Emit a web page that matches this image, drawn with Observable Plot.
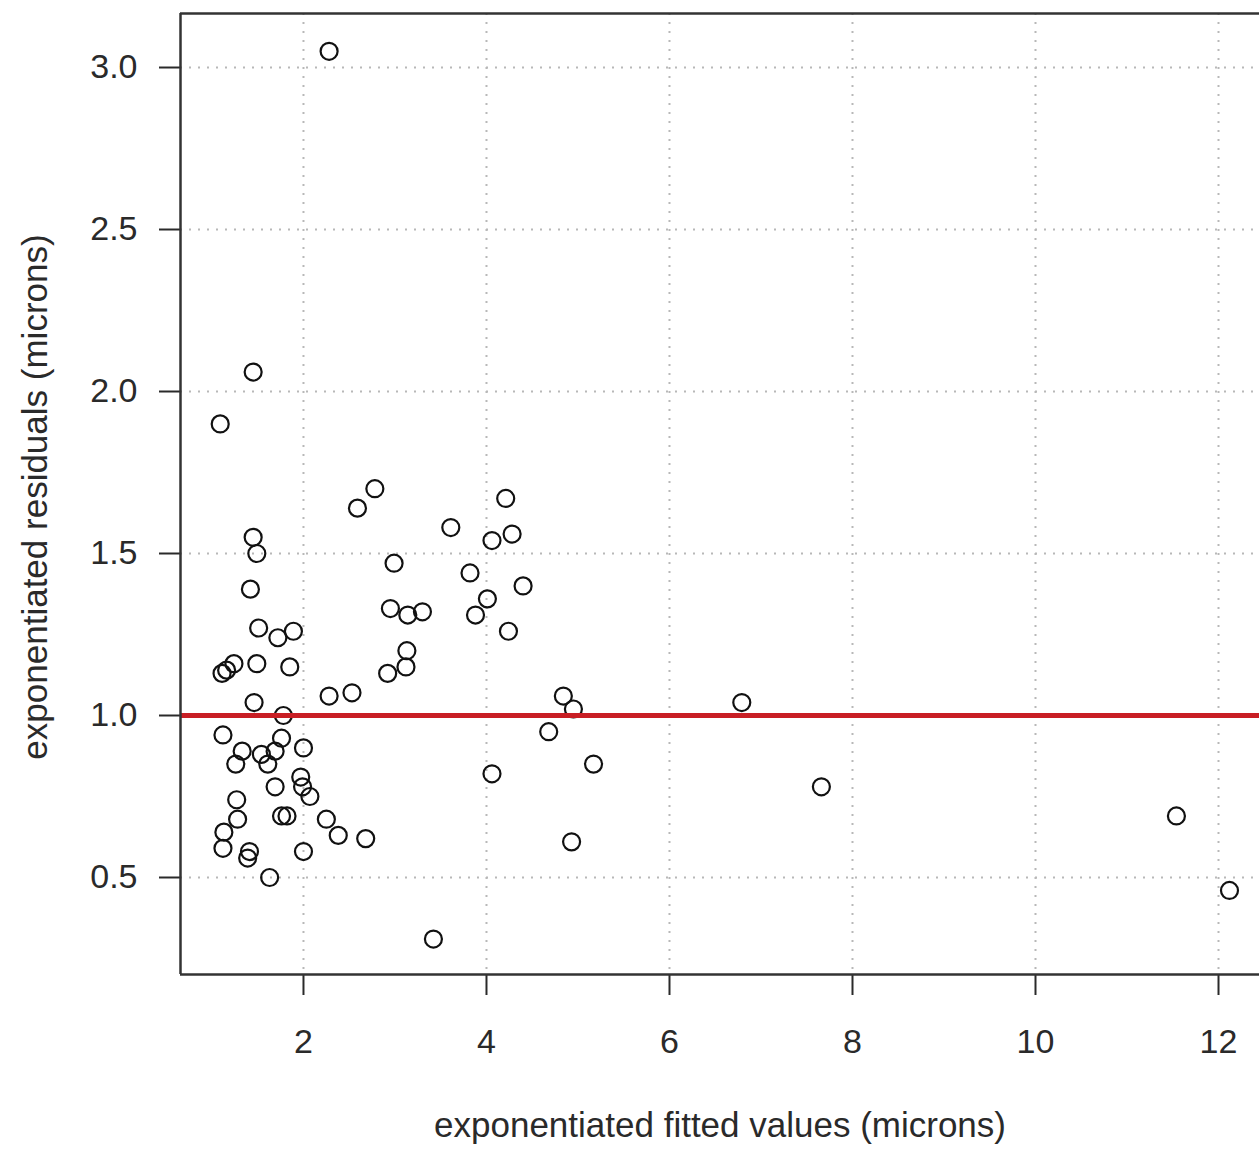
<!DOCTYPE html>
<html>
<head>
<meta charset="utf-8">
<script src="https://cdn.jsdelivr.net/npm/d3@7"></script>
<script src="https://cdn.jsdelivr.net/npm/@observablehq/plot@0.6"></script>
<style>
  html, body { margin: 0; padding: 0; background: #fff; overflow: hidden; }
  #chart svg { display: block; }
</style>
</head>
<body>
<div id="chart"></div>
<script>
// Data
const fitted = [2.28,1.09,1.45,1.45,1.49,1.42,1.51,1.72,1.89,1.24,1.49,1.85,1.11,1.16,1.46,1.78,1.12,1.33,1.26,1.54,1.61,1.69,1.76,2.00,1.69,1.97,1.99,2.07,1.27,1.28,1.13,1.12,1.76,1.82,1.41,1.39,2.00,1.63,2.25,2.38,2.68,2.28,2.53,2.78,2.59,4.21,3.61,4.06,4.28,2.99,3.82,4.40,2.95,3.14,3.30,4.01,3.88,4.24,3.13,3.12,2.92,4.84,4.95,4.68,5.17,4.06,4.93,3.42,6.79,7.66,11.54,12.12];
const residuals = [3.05,1.90,2.06,1.55,1.50,1.39,1.27,1.24,1.26,1.16,1.16,1.15,1.13,1.14,1.04,1.00,0.94,0.89,0.85,0.88,0.85,0.89,0.93,0.90,0.78,0.81,0.78,0.75,0.74,0.68,0.64,0.59,0.69,0.69,0.58,0.56,0.58,0.50,0.68,0.63,0.62,1.06,1.07,1.70,1.64,1.67,1.58,1.54,1.56,1.47,1.44,1.40,1.33,1.31,1.32,1.36,1.31,1.26,1.20,1.15,1.13,1.06,1.02,0.95,0.85,0.82,0.61,0.31,1.04,0.78,0.69,0.46];
const xTicks = [2, 4, 6, 8, 10, 12];
const yTicks = [0.5, 1.0, 1.5, 2.0, 2.5, 3.0];
const refLine = [1];
const xLabel = "exponentiated fitted values (microns)";
const yLabel = "exponentiated residuals (microns)";
const xDomain = [0.656, 12.448];
const yDomain = [0.2006, 3.1667];

const data = fitted.map((f, i) => ({fitted: f, residual: residuals[i]}));

const font = "'Liberation Sans', Arial, Helvetica, sans-serif";
const ink = "#2a2a2a";

const chart = Plot.plot({
  width: 1259,
  height: 1153,
  marginLeft: 180,
  marginRight: 0,
  marginTop: 13,
  marginBottom: 179,
  style: {fontFamily: font, fontSize: "34px", color: ink, background: "#fff"},
  x: {domain: xDomain},
  y: {domain: yDomain},
  marks: [
    Plot.gridX(xTicks, {stroke: "#b8b8b8", strokeOpacity: 1, strokeWidth: 2, strokeDasharray: "2,7"}),
    Plot.gridY(yTicks, {stroke: "#b8b8b8", strokeOpacity: 1, strokeWidth: 2, strokeDasharray: "2,7"}),
    Plot.axisX(xTicks, {tickSize: 21, tickPadding: 33, tickFormat: d => String(d), label: null, stroke: ink, strokeWidth: 2, fill: ink, fontSize: 34}),
    Plot.axisY(yTicks, {tickSize: 21, tickPadding: 22, tickFormat: d3.format(".1f"), label: null, stroke: ink, strokeWidth: 2, fill: ink, fontSize: 34}),
    Plot.dot(data, {x: "fitted", y: "residual", r: 8.5, stroke: "#111", strokeWidth: 2.2, fill: "none"}),
    Plot.ruleY(refLine, {stroke: "#c81e24", strokeWidth: 5}),
    // plot frame (left, top, bottom); the right side lies beyond the picture
    Plot.ruleX([xDomain[0]], {stroke: "#333", strokeWidth: 2.5}),
    Plot.ruleY([yDomain[0]], {stroke: "#333", strokeWidth: 2.5}),
    Plot.ruleY([yDomain[1]], {stroke: "#333", strokeWidth: 2.5}),
    Plot.text([xLabel], {text: d => d, frameAnchor: "bottom", dy: 162, fontSize: 35, fill: ink}),
    Plot.text([yLabel], {text: d => d, frameAnchor: "left", textAnchor: "middle", dx: -145, dy: 3, rotate: -90, fontSize: 35, fill: ink})
  ]
});
document.getElementById("chart").appendChild(chart);
</script>
</body>
</html>
